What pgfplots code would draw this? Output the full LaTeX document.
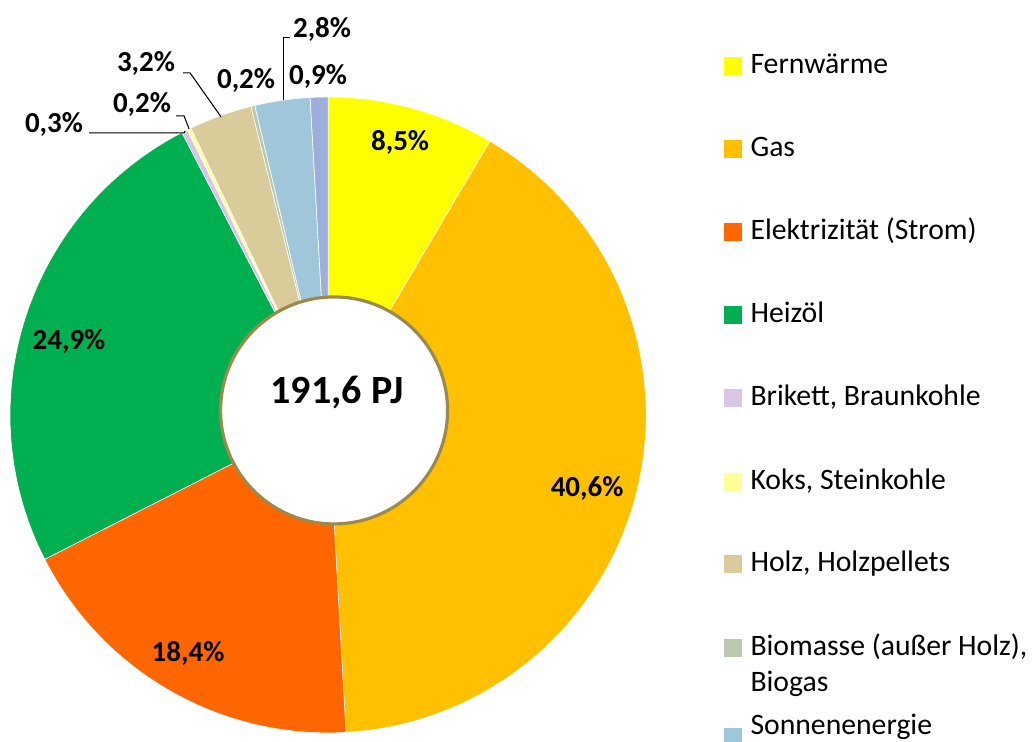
\documentclass[border=0pt]{standalone}
\usepackage{fontspec}
\setmainfont{Carlito}
\usepackage{pgfplots}
\usepackage{pgfplotstable}
\pgfplotsset{compat=1.18}

\definecolor{cFern}{HTML}{FFFF00}
\definecolor{cGas}{HTML}{FFC000}
\definecolor{cElek}{HTML}{FF6600}
\definecolor{cOel}{HTML}{00B050}
\definecolor{cBrik}{HTML}{D9C6E6}
\definecolor{cKoks}{HTML}{FFFF99}
\definecolor{cHolz}{HTML}{DACB9A}
\definecolor{cBio}{HTML}{BAC9AE}
\definecolor{cSonne}{HTML}{9FC7D9}
\definecolor{cUmw}{HTML}{9EAEDC}
\definecolor{cRing}{HTML}{9C8A4C}

% shares in percent, clockwise from 12 o'clock
\pgfplotstableread{
share col
8.5 cFern
40.6 cGas
18.4 cElek
24.9 cOel
0.3 cBrik
0.2 cKoks
3.2 cHolz
0.2 cBio
2.8 cSonne
0.9 cUmw
}\piedata

\newcommand{\lbl}{\fontsize{16.5}{19}\selectfont\bfseries}
\newcommand{\leg}{\fontsize{16.9}{19}\selectfont}

\begin{document}
\begin{tikzpicture}
\path[use as bounding box] (0,0) rectangle (20.64cm,14.84cm);
\clip (0,0) rectangle (20.64cm,14.84cm);
\begin{axis}[at={(0,0)},anchor=south west,
  x=0.02cm,y=0.02cm,xmin=0,xmax=1032,ymin=0,ymax=742,
  hide axis, clip=false]
  \xdef\cum{0}
  \pgfplotsforeachungrouped \i in {0,...,9}{%
    \pgfplotstablegetelem{\i}{share}\of\piedata \let\sh\pgfplotsretval
    \pgfplotstablegetelem{\i}{col}\of\piedata \let\cl\pgfplotsretval
    \pgfmathsetmacro\aS{90-3.6*\cum}%
    \pgfmathsetmacro\aE{90-3.6*(\cum+\sh)}%
    \pgfmathsetmacro\nc{\cum+\sh}%
    \xdef\cum{\nc}%
    \edef\temp{\noexpand\fill[\cl, draw=white, line width=0.35pt]
      (axis cs:328,327) -- ++(\aS:6.36cm)
      arc[start angle=\aS, end angle=\aE, radius=6.36cm] -- cycle;}%
    \temp
  }
  % centre disc
  \draw[line width=1.8pt, draw=cRing, fill=white] (axis cs:334,331.5) circle[radius=2.27cm];
  \node[anchor=base, font=\fontsize{22.8}{26}\selectfont\bfseries] at (axis cs:337,338) {191,6 PJ};

  % data labels
  \node[anchor=base,font=\lbl] at (axis cs:400,591) {8,5\%};
  \node[anchor=base,font=\lbl] at (axis cs:587,245) {40,6\%};
  \node[anchor=base,font=\lbl] at (axis cs:188,80) {18,4\%};
  \node[anchor=base,font=\lbl] at (axis cs:69,392) {24,9\%};
  \node[anchor=base,font=\lbl] at (axis cs:54,609) {0,3\%};
  \node[anchor=base,font=\lbl] at (axis cs:142,629) {0,2\%};
  \node[anchor=base,font=\lbl] at (axis cs:146,670) {3,2\%};
  \node[anchor=base,font=\lbl] at (axis cs:246,653) {0,2\%};
  \node[anchor=base,font=\lbl] at (axis cs:322,704) {2,8\%};
  \node[anchor=base,font=\lbl] at (axis cs:318,657) {0,9\%};

  % leader lines
  \draw[line width=0.6pt] (axis cs:89,609) -- (axis cs:184,609) -- (axis cs:185,611);
  \draw[line width=0.6pt] (axis cs:176,626) -- (axis cs:184,626) -- (axis cs:189,613);
  \draw[line width=0.6pt] (axis cs:183,669) -- (axis cs:190,669) -- (axis cs:221,625);
  \draw[line width=0.6pt] (axis cs:290,704) -- (axis cs:283,704) -- (axis cs:283,642);

  % legend
  \fill[cFern]  (axis cs:724,685) rectangle (axis cs:742,667);
  \fill[cGas]   (axis cs:724,602) rectangle (axis cs:742,584);
  \fill[cElek]  (axis cs:724,519) rectangle (axis cs:742,501);
  \fill[cOel]   (axis cs:724,436) rectangle (axis cs:742,418);
  \fill[cBrik]  (axis cs:724,353) rectangle (axis cs:742,335);
  \fill[cKoks]  (axis cs:724,269) rectangle (axis cs:742,251);
  \fill[cHolz]  (axis cs:724,187) rectangle (axis cs:742,169);
  \fill[cBio]   (axis cs:724,103) rectangle (axis cs:742,85);
  \fill[cSonne] (axis cs:724,14) rectangle (axis cs:742,-4);
  \node[anchor=base west,font=\leg,inner sep=0pt] at (axis cs:750,668) {Fernwärme};
  \node[anchor=base west,font=\leg,inner sep=0pt] at (axis cs:750,585) {Gas};
  \node[anchor=base west,font=\leg,inner sep=0pt] at (axis cs:750,502) {Elektrizität (Strom)};
  \node[anchor=base west,font=\leg,inner sep=0pt] at (axis cs:750,419) {Heizöl};
  \node[anchor=base west,font=\leg,inner sep=0pt] at (axis cs:750,336) {Brikett, Braunkohle};
  \node[anchor=base west,font=\leg,inner sep=0pt] at (axis cs:750,252) {Koks, Steinkohle};
  \node[anchor=base west,font=\leg,inner sep=0pt] at (axis cs:750,170) {Holz, Holzpellets};
  \node[anchor=base west,font=\leg,inner sep=0pt] at (axis cs:750,86) {Biomasse (außer Holz),};
  \node[anchor=base west,font=\leg,inner sep=0pt] at (axis cs:750,50) {Biogas};
  \node[anchor=base west,font=\leg,inner sep=0pt] at (axis cs:750,7) {Sonnenenergie};
\end{axis}
\end{tikzpicture}
\end{document}
